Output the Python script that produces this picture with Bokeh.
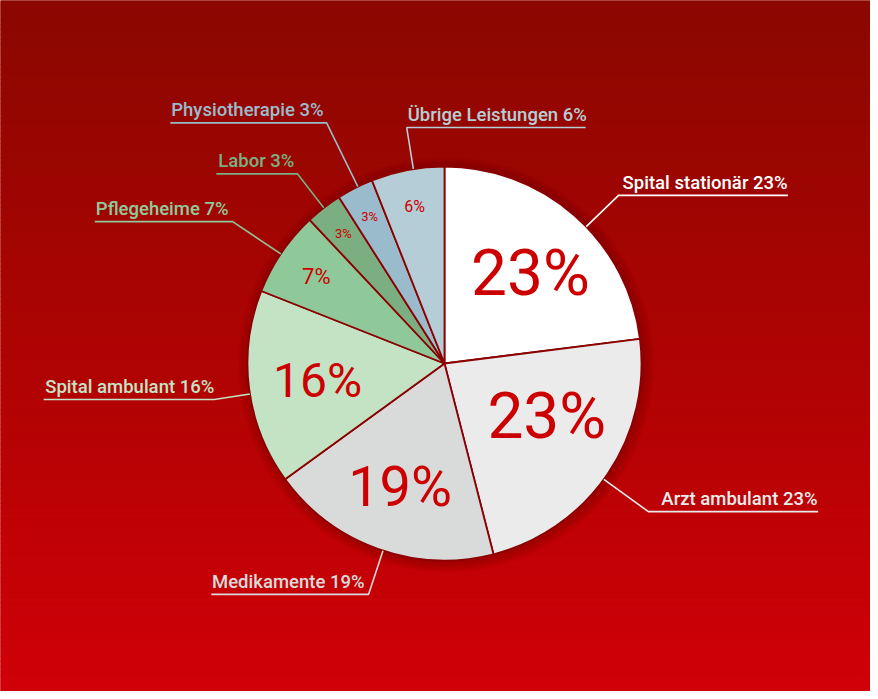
import numpy as np
from bokeh.plotting import figure
from bokeh.models import Range1d, ColumnDataSource
from bokeh.core.properties import value
from bokeh.embed import file_html
from bokeh.resources import INLINE

# ---- data ----
categories = ["Spital stationär", "Arzt ambulant", "Medikamente", "Spital ambulant",
              "Pflegeheime", "Labor", "Physiotherapie", "Übrige Leistungen"]
shares = [23, 23, 19, 16, 7, 3, 3, 6]

# ---- styles / layout ----
colors = ["#FFFFFF", "#EBEBEB", "#D9DBDA", "#C4E2C4", "#8FC99A", "#7BAF82", "#9ABBCB", "#B5CDD6"]
inner_font_px = [64, 64, 56, 48, 22, 13, 13, 16]
inner_r_px = [125, 115, 131, 128, 155, 165, 165, 160]
inner_shift_deg = [2, -7, 0, 0, 0, 0, 0, 0]
elbow_r_px = [242, 252, 243, 233, 255, 240, 268, 239]
elbow_shift_deg = [4.6, 1.8, -1.6, -1.7, -0.4, 0.0, 0.9, 1.7]
text_gap_px = [4, 13, 4, 0, 4, 3, 3, 1]
label_right = [True, True, False, False, False, False, False, True]
LABEL_FONT = "Roboto Medium"
LABEL_SIZE = 18.5
NUM_FONT = "Roboto"
BASE_FIX = 0.345   # renderer baseline correction (fraction of font size)

# approximate Roboto advance widths (em)
ADV = {'a': .544, 'b': .548, 'c': .511, 'd': .550, 'e': .517, 'f': .347, 'g': .548,
       'h': .538, 'i': .237, 'k': .496, 'l': .237, 'm': .855, 'n': .539, 'o': .558,
       'p': .548, 'r': .331, 's': .503, 't': .319, 'u': .538, 'y': .473, 'z': .496,
       'ä': .544, ' ': .248, '%': .715, 'S': .594, 'A': .652, 'M': .840, 'P': .630,
       'L': .526, 'Ü': .641}


def text_width(s, size):
    return sum(ADV.get(ch, .562) for ch in s) * size * 1.02


W, H = 870, 691
PX = 197.0            # pixels per unit radius
CX, CY = 444, 363     # pie centre inside the canvas (px from top-left)

p = figure(width=W, height=H, output_backend="svg", toolbar_location=None,
           x_range=Range1d(-CX / PX, (W - CX) / PX),
           y_range=Range1d(-(H - CY) / PX, CY / PX),
           x_axis_type=None, y_axis_type=None, min_border=0)
p.grid.visible = False
p.outline_line_color = None
p.background_fill_color = "#AA0500"
p.border_fill_color = "#AA0500"

# ---- vertical gradient background ----
top_rgb = np.array([139, 8, 0])
bot_rgb = np.array([208, 0, 8])
N = 140
edges = np.linspace(CY / PX, -(H - CY) / PX, N + 1)
band_cols = []
for i in range(N):
    t = i / (N - 1)
    c = (top_rgb + (bot_rgb - top_rgb) * t).astype(int)
    band_cols.append("#%02x%02x%02x" % tuple(c))
p.quad(left=-CX / PX - 0.1, right=(W - CX) / PX + 0.1, top=edges[:-1] + 0.003, bottom=edges[1:],
       fill_color=band_cols, line_color=None)

# ---- soft shadow ----
for k in range(12):
    p.circle(x=1.5 / PX, y=-1.5 / PX, radius=1 + (k + 1) * 0.9 / PX,
             fill_color="#400000", fill_alpha=0.022, line_color=None)

# ---- pie ----
vals = np.array(shares, dtype=float)
frac = vals / vals.sum()
cum = np.concatenate([[0], np.cumsum(frac)])
start = np.pi / 2 - cum[:-1] * 2 * np.pi
end = np.pi / 2 - cum[1:] * 2 * np.pi
mid_deg = (cum[:-1] + cum[1:]) / 2 * 360.0   # clockwise from top

src = ColumnDataSource(dict(start=start, end=end, color=colors, cat=categories))
p.wedge(x=0, y=0, radius=1, start_angle="start", end_angle="end", direction="clock",
        fill_color="color", line_color="#8B0000", line_width=1.8, source=src)

# ---- inner labels ----
ix, iy, itxt, isz = [], [], [], []
for i, v in enumerate(shares):
    th = np.radians(mid_deg[i] + inner_shift_deg[i])
    r = inner_r_px[i] / PX
    fs = inner_font_px[i]
    ix.append(r * np.sin(th))
    iy.append(r * np.cos(th) + (BASE_FIX - 0.355) * fs / PX)
    itxt.append(f"{v}%")
    isz.append(f"{fs}px")
p.text(x=ix, y=iy, text=itxt, text_font_size=isz, text_color="#CC0000",
       text_align="center", text_baseline="alphabetic", text_font=value(NUM_FONT))

# ---- outer labels with connectors ----
for i, v in enumerate(shares):
    th = np.radians(mid_deg[i] + elbow_shift_deg[i])
    sx, sy = np.sin(th), np.cos(th)
    ex, ey = sx * elbow_r_px[i] / PX, sy * elbow_r_px[i] / PX
    label = f"{categories[i]} {v}%"
    wpx = text_width(label, LABEL_SIZE)
    gap = text_gap_px[i]
    if label_right[i]:
        lx_end = ex + (gap + wpx + 1) / PX
        tx, align = ex + gap / PX, "left"
    else:
        lx_end = ex - (gap + wpx + 2) / PX
        tx, align = ex - gap / PX, "right"
    p.line(x=[sx, ex, lx_end], y=[sy, ey, ey], line_color=colors[i], line_width=1.6)
    p.text(x=[tx], y=[ey + (6 + BASE_FIX * LABEL_SIZE) / PX], text=[label],
           text_font=value(LABEL_FONT), text_font_size=f"{LABEL_SIZE}px",
           text_color=colors[i], text_align=align, text_baseline="alphabetic")

open("out.html", "w").write(file_html(p, INLINE))
